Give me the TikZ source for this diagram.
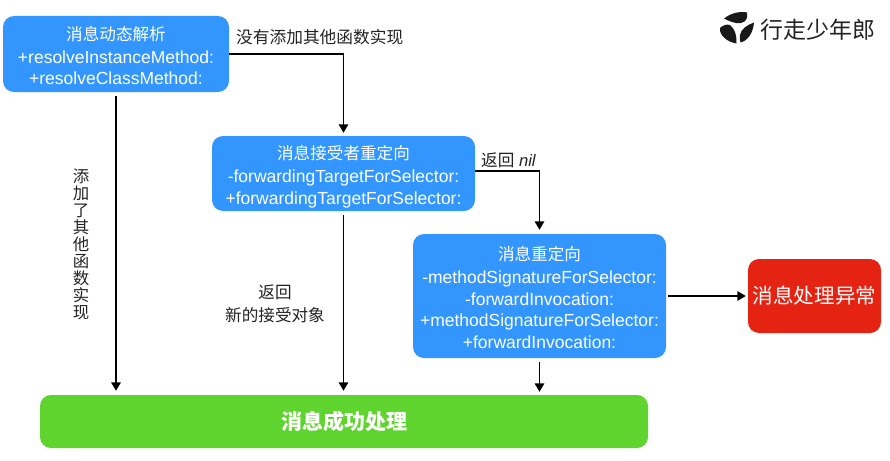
\documentclass[tikz,border=0pt]{standalone}
\usepackage{fontspec}
\setmainfont{Liberation Sans}
\newfontfamily\cjk{Noto Sans CJK SC}
\usetikzlibrary{arrows.meta}
\definecolor{boxblue}{HTML}{3396FF}
\definecolor{boxgreen}{HTML}{5FD32E}
\definecolor{boxred}{HTML}{E52313}
\definecolor{inkdark}{HTML}{222222}
\newcommand{\zh}[2]{\rule{0pt}{#1pt}{\fontsize{16.6}{21.5}\selectfont\cjk #2}}
\tikzset{
  flowbox/.style={fill=boxblue,rounded corners=11pt,text=white,align=center,inner sep=0pt,font=\fontsize{17.5}{21.5}\selectfont},
  lbl/.style={text=inkdark,align=center,inner sep=0pt,font=\fontsize{16.6}{21}\selectfont},
  flow/.style={line width=1.6pt,black,-{Triangle[length=8.5pt,width=9.5pt]}},
}
\begin{document}
\begin{tikzpicture}[x=1pt,y=-1pt]
\useasboundingbox (0,0) rectangle (890,460);
\fill[white] (0,0) rectangle (890,460);
\node[flowbox,minimum width=226pt,minimum height=76pt] (a) at (116,54) {\zh{17.5}{消息动态解析}\\[1pt]+resolveInstanceMethod:\\+resolveClassMethod:};
\node[flowbox,minimum width=263pt,minimum height=75pt] (b) at (343.5,173.5) {\zh{20.5}{消息接受者重定向}\\[2pt]-forwardingTargetForSelector:\\+forwardingTargetForSelector:};
\node[flowbox,minimum width=253pt,minimum height=124pt] (c) at (539.5,296) {\zh{16.5}{消息重定向}\\[2pt]-methodSignatureForSelector:\\-forwardInvocation:\\+methodSignatureForSelector:\\+forwardInvocation:};
\node[fill=boxred,rounded corners=11pt,text=white,inner sep=0pt,minimum width=133pt,minimum height=74pt,font=\fontsize{20.6}{24}\selectfont\cjk] (d) at (814.5,296) {消息处理异常};
\node[fill=boxgreen,rounded corners=11pt,text=white,inner sep=0pt,minimum width=608pt,minimum height=53pt,font=\fontsize{21}{24}\selectfont\cjk\bfseries] (e) at (344,421.5) {消息成功处理};
\draw[flow,shorten >=3pt] (a.east) -| (b.north);
\draw[flow,shorten <=4pt,shorten >=4pt] (a.south) -- (a.south |- e.north);
\draw[flow,shorten <=4pt,shorten >=4pt] (b.south) -- (b.south |- e.north);
\draw[flow,shorten >=4pt] ([yshift=2.5pt]b.east) -| (c.north);
\draw[flow,shorten <=4pt,shorten >=3pt] (c.south) -- (c.south |- e.north);
\draw[flow,shorten <=2pt,shorten >=2pt] (c.east) -- (d.west);
\node[lbl,anchor=west,font=\fontsize{16.7}{21}\selectfont\cjk] (l1) at (236,37) {没有添加其他函数实现};
\node[lbl,anchor=west] (l2) at (481,160) {{\cjk 返回} \itshape nil};
\node[lbl,font=\fontsize{16.4}{17}\selectfont\cjk] (l3) at (81,244) {添\\加\\了\\其\\他\\函\\数\\实\\现};
\node[lbl,font=\fontsize{16.6}{23}\selectfont\cjk] (l4) at (275,304) {返回\\新的接受对象};
\node[anchor=west,inner sep=0pt,text=inkdark,font=\fontsize{23}{26}\selectfont\cjk] (logo) at (760,29.5) {行走少年郎};
\fill[black!90] (724,18.5) .. controls (731,13) and (740,11) .. (747,12.5) .. controls (748,18) and (746,22) .. (741,23) .. controls (735,24) and (729,21) .. (724,18.5) -- cycle;
\fill[black!90] (720,28) .. controls (719,35) and (727,42) .. (736.5,43.5) .. controls (737,36) and (735,29) .. (730,25) .. controls (727,24) and (723,25) .. (720,28) -- cycle;
\fill[black!90] (754,22.5) .. controls (747,25) and (741,29) .. (740,35) .. controls (739.5,38) and (740,41) .. (740.5,42.5) .. controls (747,41) and (753,34) .. (754,22.5) -- cycle;
\end{tikzpicture}
\end{document}
